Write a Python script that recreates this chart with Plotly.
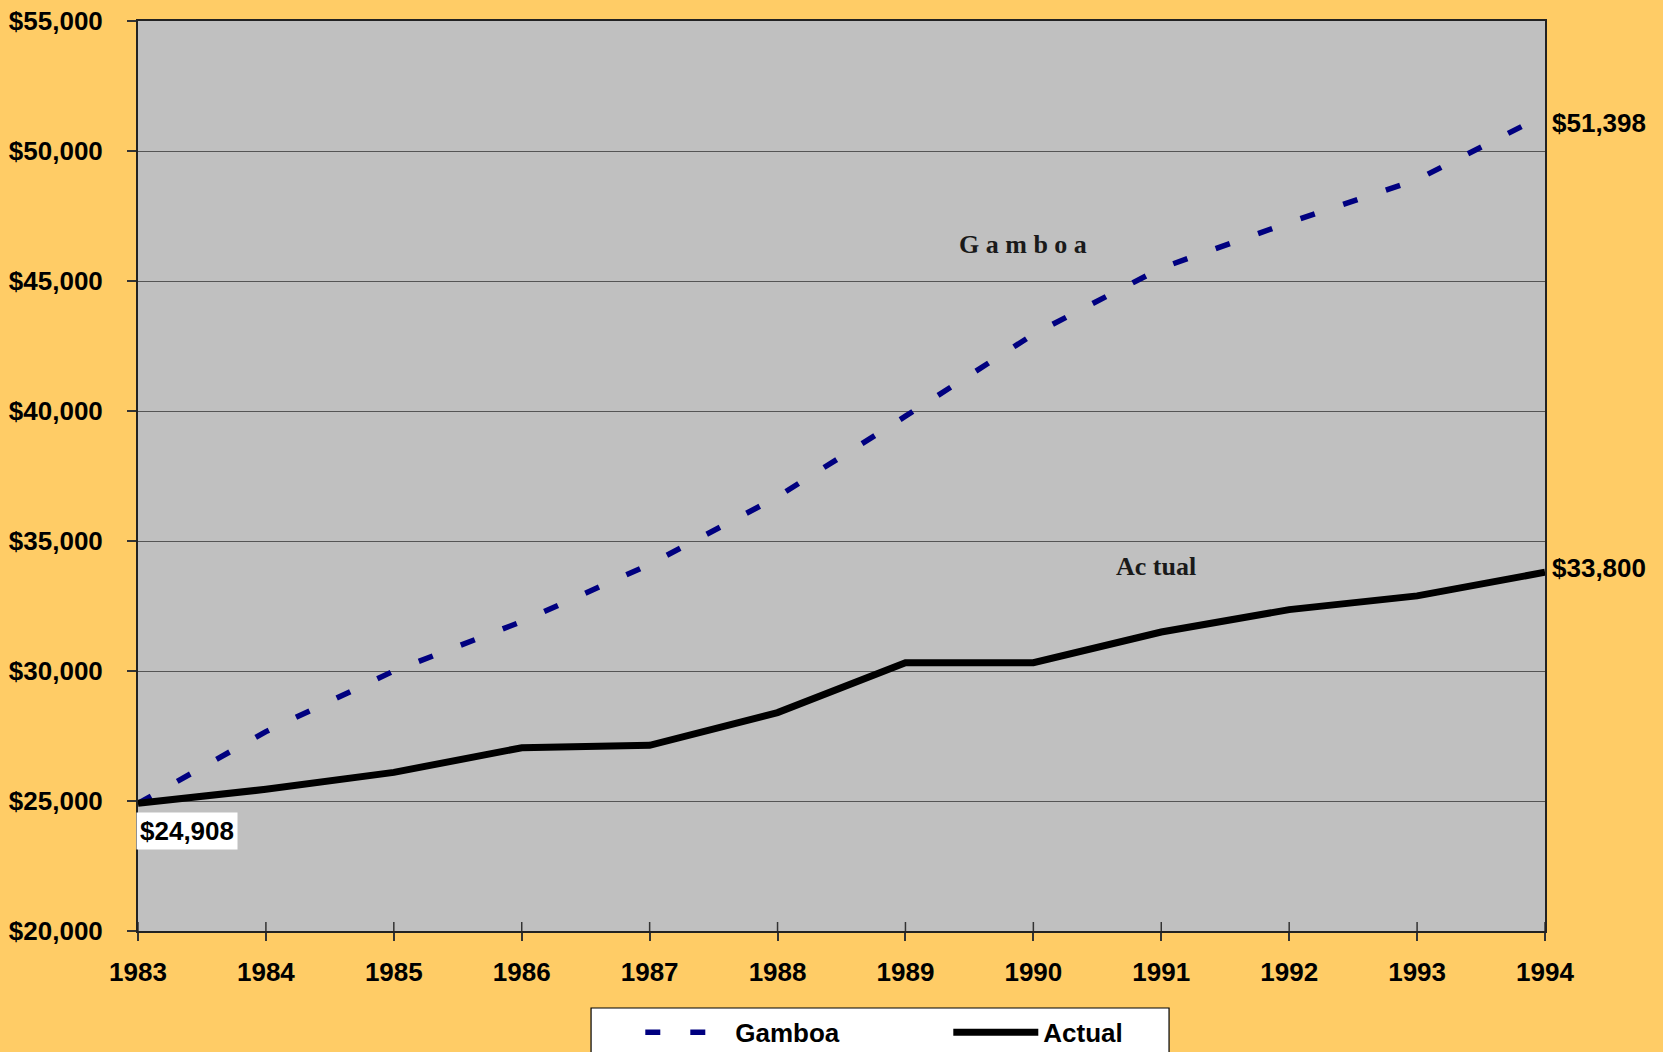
import plotly.graph_objects as go

years = [1983, 1984, 1985, 1986, 1987, 1988, 1989, 1990, 1991, 1992, 1993, 1994]
gamboa = [24908, 27670, 30000, 31900, 34100, 36700, 39800, 42950, 45500, 47250, 48900, 51398]
actual = [24908, 25450, 26100, 27050, 27140, 28400, 30320, 30320, 31500, 32360, 32890, 33800]
y_ticks = [20000, 25000, 30000, 35000, 40000, 45000, 50000, 55000]

fig = go.Figure()
fig.add_trace(go.Scatter(x=years, y=gamboa, mode="lines", name="<b>Gamboa</b>",
                         line=dict(color="#000080", width=5.5, dash="15px,30px")))
fig.add_trace(go.Scatter(x=years, y=actual, mode="lines", name="<b>Actual</b>",
                         line=dict(color="#000000", width=7)))

lab_font = dict(family="Liberation Sans, Arial", size=26, color="#000000")
fig.add_annotation(x=years[0], y=actual[0], text="<b>$24,908</b>", showarrow=False,
                   xanchor="left", yanchor="top", yshift=-9, xshift=-2, bgcolor="white",
                   borderpad=3, font=lab_font)
fig.add_annotation(x=years[-1], y=gamboa[-1], text="<b>$51,398</b>", showarrow=False,
                   xanchor="left", yanchor="middle", xshift=5, yshift=-8, font=lab_font)
fig.add_annotation(x=years[-1], y=actual[-1], text="<b>$33,800</b>", showarrow=False,
                   xanchor="left", yanchor="middle", xshift=5, yshift=4, font=lab_font)

ser_font = dict(family="Liberation Serif, Times New Roman", size=26, color="#1a1a1a")
fig.add_annotation(x=1989.92, y=46385, text="<b>G a m b o a</b>", showarrow=False,
                   font=ser_font)
fig.add_annotation(x=1990.96, y=34038, text="<b>Ac tual</b>", showarrow=False,
                   font=ser_font)

# inner halves of the crossing x ticks
for yr in years:
    fig.add_shape(type="line", xref="x", yref="paper", x0=yr, x1=yr, y0=0, y1=9 / 910,
                  line=dict(color="#333333", width=1.5))

# legend frame
fig.add_shape(type="rect", xref="paper", yref="paper", x0=0.3220, x1=0.7328,
              y0=-0.0846, y1=-0.16, fillcolor="white",
              line=dict(color="#000000", width=1.2), layer="above")

tick_font = dict(family="Liberation Sans, Arial", size=26, color="#000000")
fig.update_layout(
    width=1663, height=1052,
    margin=dict(l=138, r=118, t=21, b=121, autoexpand=False),
    paper_bgcolor="#FFCC66",
    plot_bgcolor="#C0C0C0",
    font=dict(family="Liberation Sans, Arial", size=26, color="#000000"),
    showlegend=True,
    legend=dict(orientation="h", x=0.357, xanchor="left", y=-0.0855, yanchor="top",
                bgcolor="rgba(0,0,0,0)", borderwidth=0,
                font=dict(family="Liberation Sans, Arial", size=26, color="#000000"),
                itemwidth=85, entrywidth=208),
    xaxis=dict(range=[1983, 1994], tickmode="array", tickvals=years,
               ticktext=[f"<b>{y}</b>" for y in years],
               ticks="outside", ticklen=8, tickcolor="#333333", tickwidth=1.5,
               showgrid=False, zeroline=False, showline=True, linecolor="#222222",
               linewidth=2, mirror=True, tickfont=tick_font, ticklabelstandoff=9),
    yaxis=dict(range=[20000, 55000], tickmode="array", tickvals=y_ticks,
               ticktext=[f"<b>${v:,}</b>" for v in y_ticks],
               ticks="outside", ticklen=9, tickcolor="#333333", tickwidth=1.5,
               showgrid=True, gridcolor="#555555", gridwidth=1.2, zeroline=False,
               showline=True, linecolor="#222222", linewidth=2, mirror=True,
               tickfont=tick_font, ticklabelstandoff=19),
)

fig.write_html("out.html")
